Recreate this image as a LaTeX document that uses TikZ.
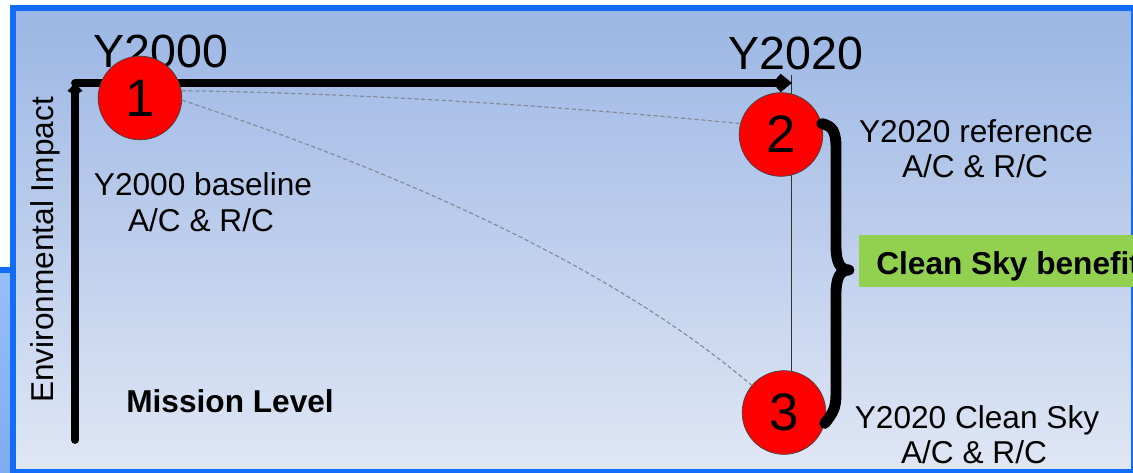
\documentclass[tikz,border=0pt]{standalone}
\usepackage{fontspec}
\setmainfont{Liberation Sans}
\usetikzlibrary{arrows.meta}
\definecolor{frameblue}{RGB}{18,108,250}
\definecolor{bgtop}{RGB}{155,182,228}
\definecolor{bgbot}{RGB}{224,231,245}
\definecolor{paneltop}{RGB}{150,192,250}
\definecolor{panelbot}{RGB}{125,170,240}
\definecolor{benefitgreen}{RGB}{146,208,80}
\definecolor{dashgray}{RGB}{130,138,152}
\definecolor{circred}{RGB}{255,0,0}
\tikzset{
  yearlab/.style={inner sep=0pt, anchor=base west, font=\fontsize{26.5}{30}\selectfont},
  lab/.style={inner sep=0pt, anchor=base, font=\fontsize{18}{20}\selectfont},
  boldlab/.style={inner sep=0pt, anchor=base west, font=\fontsize{18}{20}\selectfont\bfseries},
  numcirc/.style={circle, fill=circred, draw=black!75, line width=0.4pt, minimum size=47.6pt, inner sep=0pt, font=\fontsize{30}{32}\selectfont},
  axisline/.style={line width=4.4pt, line cap=round},
  dashcurve/.style={draw=dashgray, line width=0.65pt, dash pattern=on 2.4pt off 1.5pt},
  thinline/.style={draw=black!80, line width=0.4pt},
  bracepath/.style={line width=6.2pt, line cap=round, line join=round},
}
\begin{document}
\begin{tikzpicture}[x=0.02cm, y=-0.02cm]
\clip (0,0) rectangle (1133,473);
\fill[white] (0,0) rectangle (1133,473);
% panel behind
\shade[top color=paneltop, bottom color=panelbot] (-20,270) rectangle (13,490);
\draw[frameblue, line width=3.4pt] (-20,270) -- (13,270);
% main frame
\shade[top color=bgtop, bottom color=bgbot] (13,8) rectangle (1134,472);
\draw[frameblue, line width=3.2pt] (13,8) rectangle (1134,472);
% coordinates
\coordinate (ybot) at (75,440);
\coordinate (corner) at (75,83);
\coordinate (xend) at (792,83);
\coordinate (t20) at (791,75);
% year labels
\node[yearlab] (y2000) at (93,68) {Y2000};
\node[yearlab] (y2020) at (728,70) {Y2020};
% circle centres
\path (140,98) coordinate (p1) (781,134.5) coordinate (p2) (784,412.5) coordinate (p3);
% thin vertical line
\draw[thinline] (t20) -- (t20 |- 0,371);
% axes
\draw[axisline, -{Kite[length=7pt,width=8.5pt,inset=2.5pt]}] (ybot) -- (corner);
\draw[axisline, -{Kite[length=11pt,width=10.5pt,inset=4.5pt]}] (corner) -- (xend);
% circles
\node[numcirc] (c1) at (p1) {1};
\node[numcirc] (c2) at (p2) {2};
\node[numcirc] (c3) at (p3) {3};
% dashed curves
\draw[dashcurve] (c1.10) .. controls (400,94) and (600,110) .. (c2.165);
\draw[dashcurve] (c1.-3) .. controls (438,185) and (628,280) .. (c3.140);
% brace
\draw[bracepath] (c2.15) .. controls (833,126) and (836,132) .. (836,148)
  -- (836,246) .. controls (836,262) and (840,270) .. (849,270)
  .. controls (840,270) and (836,278) .. (836,294)
  -- (836,394) .. controls (836,408) and (833,413) .. (c3.-15);
% green box
\fill[benefitgreen] (859,235) rectangle (1140,287);
\node[boldlab] (benefit) at (876,274) {Clean Sky benefits};
% labels
\node[lab] (l1a) at (203,195) {Y2000 baseline};
\node[lab] (l1b) at (201,232) {A/C \& R/C};
\node[lab] (l2a) at (976,143) {Y2020 reference};
\node[lab] (l2b) at (975,177) {A/C \& R/C};
\node[lab] (l3a) at (977,428) {Y2020 Clean Sky};
\node[lab] (l3b) at (974,463) {A/C \& R/C};
\node[boldlab] (mission) at (126,412) {Mission Level};
\node[lab, rotate=90] (env) at (53,250) {Environmental Impact};
\end{tikzpicture}
\end{document}
